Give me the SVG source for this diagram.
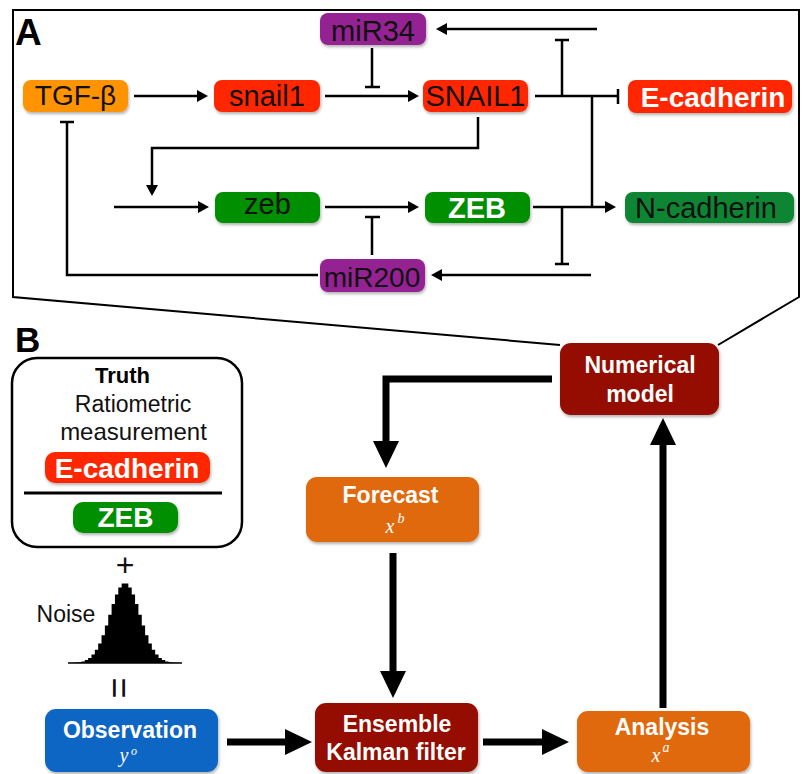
<svg xmlns="http://www.w3.org/2000/svg" width="803" height="774" viewBox="0 0 803 774">
<style>
.lt{font-family:"Liberation Sans",Arial,sans-serif;fill:#111;text-anchor:middle}
.bw{font-family:"Liberation Sans",Arial,sans-serif;font-weight:bold;fill:#fff;text-anchor:middle}
.bb{font-family:"Liberation Sans",Arial,sans-serif;font-weight:bold;fill:#000}
.mt{font-family:"Liberation Serif","Times New Roman",serif;font-style:italic;fill:#fff;text-anchor:middle}
.thin{fill:none;stroke:#000;stroke-width:2.5}
.thick{fill:none;stroke:#000;stroke-width:7;stroke-linejoin:miter}
.outline{fill:none;stroke:#000;stroke-width:2}
</style>
<defs>
<filter id="sh" x="-10%" y="-20%" width="130%" height="160%">
<feDropShadow dx="1" dy="2" stdDeviation="1.5" flood-color="#000" flood-opacity="0.3"/>
</filter>
<marker id="ah" viewBox="0 -6 11 12" markerWidth="11" markerHeight="12" refX="1" refY="0" orient="auto" markerUnits="userSpaceOnUse">
<path d="M0,-6 L11,0 L0,6 z" fill="#000"/>
</marker>
<marker id="AH" viewBox="0 -13 27 26" markerWidth="27" markerHeight="26" refX="1" refY="0" orient="auto" markerUnits="userSpaceOnUse">
<path d="M0,-13 L27,0 L0,13 z" fill="#000"/>
</marker>
</defs>
<rect width="803" height="774" fill="#fff"/>

<g id="panelA-outline">
<polyline class="outline" points="560,345 13,297 13,10 799,10 799,297 718,345"/>
<text class="bb" x="15" y="45" font-size="37">A</text>
</g>
<text class="bb" x="15" y="352" font-size="35">B</text>

<g id="connectors">
<path class="thin" d="M134,96 H198" marker-end="url(#ah)"/>
<path class="thin" d="M325,96 H409" marker-end="url(#ah)"/>
<path class="thin" d="M372,48 V87 M365,87 H380"/>
<path class="thin" d="M597,29 H446" marker-end="url(#ah)"/>
<path class="thin" d="M562,96 V40 M555,40 H569"/>
<path class="thin" d="M535,96 H618 M618,89 V104"/>
<path class="thin" d="M592,96 V207"/>
<path class="thin" d="M478,117 V148 H152 V186" marker-end="url(#ah)"/>
<path class="thin" d="M114,207 H199" marker-end="url(#ah)"/>
<path class="thin" d="M325,207 H409" marker-end="url(#ah)"/>
<path class="thin" d="M372,255 V217 M365,217 H380"/>
<path class="thin" d="M533,207 H606" marker-end="url(#ah)"/>
<path class="thin" d="M562,207 V264 M555,264 H569"/>
<path class="thin" d="M591,275 H441" marker-end="url(#ah)"/>
<path class="thin" d="M318,275 H67 V122 M60,122 H74"/>

<path class="thick" d="M552,379 H386 V442" marker-end="url(#AH)"/>
<path class="thick" d="M393,553 V672" marker-end="url(#AH)"/>
<path class="thick" d="M227,742 H286" marker-end="url(#AH)"/>
<path class="thick" d="M483,742 H543" marker-end="url(#AH)"/>
<path class="thick" d="M663,708 V444" marker-end="url(#AH)"/>
</g>

<g id="TGF-beta"><rect x="23" y="80" width="105" height="32" rx="8" fill="#FF9300" filter="url(#sh)"/><text class="lt" x="75.5" y="105" style="font-size:28px">TGF-β</text></g>
<g id="snail1"><rect x="214" y="80" width="106" height="32" rx="8" fill="#FF2600" filter="url(#sh)"/><text class="lt" x="267" y="106" style="font-size:29px">snail1</text></g>
<g id="miR34"><rect x="320" y="13" width="106" height="32" rx="8" fill="#942092" filter="url(#sh)"/><text class="lt" x="373" y="41" style="font-size:29px">miR34</text></g>
<g id="SNAIL1"><rect x="423" y="80" width="105" height="32" rx="8" fill="#FF2600" filter="url(#sh)"/><text class="lt" x="475.5" y="106" style="font-size:29px">SNAIL1</text></g>
<g id="E-cadherin"><rect x="628" y="80" width="164" height="33" rx="8" fill="#FF2600" filter="url(#sh)"/><text class="bw" x="713" y="107" style="font-size:28px">E-cadherin</text></g>
<g id="zeb"><rect x="215" y="192" width="105" height="31" rx="8" fill="#008F00" filter="url(#sh)"/><text class="lt" x="267.5" y="214" style="font-size:29px">zeb</text></g>
<g id="ZEB"><rect x="425" y="192" width="105" height="31" rx="8" fill="#008F00" filter="url(#sh)"/><text class="bw" x="477" y="218" style="font-size:29px">ZEB</text></g>
<g id="N-cadherin"><rect x="625" y="192" width="169" height="31" rx="8" fill="#0A8533" filter="url(#sh)"/><text class="lt" x="706" y="218" style="font-size:29px">N-cadherin</text></g>
<g id="miR200"><rect x="320" y="259" width="105" height="33" rx="8" fill="#942092" filter="url(#sh)"/><text class="lt" x="372" y="287" style="font-size:28px">miR200</text></g>

<g id="truth">
<rect x="12" y="358" width="230" height="189" rx="25" fill="#fff" stroke="#000" stroke-width="2.5"/>
<text class="bb" x="122.5" y="383" font-size="22" text-anchor="middle">Truth</text>
<text class="lt" x="133" y="412" style="font-size:23px">Ratiometric</text>
<text class="lt" x="133.5" y="440" style="font-size:24px">measurement</text>
<rect x="45" y="452" width="165" height="31" rx="10" fill="#FF2600" filter="url(#sh)"/>
<text class="bw" x="127" y="478" style="font-size:28px">E-cadherin</text>
<line x1="24" y1="493" x2="222" y2="493" stroke="#000" stroke-width="3"/>
<rect x="73" y="502" width="105" height="31" rx="10" fill="#008F00" filter="url(#sh)"/>
<text class="bw" x="125.5" y="527" style="font-size:28px">ZEB</text>
</g>

<g id="noise">
<text class="lt" x="125" y="576" style="font-size:32px">+</text>
<text class="lt" x="66" y="622" style="font-size:23px">Noise</text>
<path d="M68,663 V662.9 H71.35 V662.8 H74.7 V662.6 H78.06 V662.2 H81.41 V661.4 H84.76 V660.1 H88.12 V657.9 H91.47 V654.6 H94.82 V649.8 H98.18 V643.4 H101.53 V635.2 H104.88 V625.4 H108.24 V614.8 H111.59 V604.1 H114.94 V594.6 H118.29 V587.4 H121.65 V583.5 H128.35 V587.4 H131.71 V594.6 H135.06 V604.1 H138.41 V614.8 H141.76 V625.4 H145.12 V635.2 H148.47 V643.4 H151.82 V649.8 H155.18 V654.6 H158.53 V657.9 H161.88 V660.1 H165.24 V661.4 H168.59 V662.2 H171.94 V662.6 H175.3 V662.8 H178.65 V662.9 H182 V663 Z" fill="#000"/>
<line x1="68" y1="663" x2="182" y2="663" stroke="#000" stroke-width="1.5"/>
<text class="lt" x="0" y="0" style="font-size:36px" transform="translate(119,688) rotate(90)" dominant-baseline="central">=</text>
</g>

<g id="observation"><rect x="45" y="709" width="173" height="63" rx="11" fill="#0B66C4" filter="url(#sh)"/><text class="bw" x="130" y="738" style="font-size:23px">Observation</text><text class="mt" x="124" y="762" style="font-size:20px">y</text><text class="mt" x="134" y="755" style="font-size:12px">o</text></g>
<g id="enkf"><rect x="315" y="703" width="163" height="69" rx="11" fill="#941100" filter="url(#sh)"/><text class="bw" x="397" y="732" style="font-size:23px">Ensemble</text><text class="bw" x="396" y="760" style="font-size:23px">Kalman filter</text></g>
<g id="analysis"><rect x="577" y="711" width="173" height="61" rx="11" fill="#E0690F" filter="url(#sh)"/><text class="bw" x="662" y="735" style="font-size:23px">Analysis</text><text class="mt" x="656" y="762" style="font-size:20px">x</text><text class="mt" x="666" y="752" style="font-size:14px">a</text></g>
<g id="forecast"><rect x="306" y="477" width="173" height="65" rx="11" fill="#E0690F" filter="url(#sh)"/><text class="bw" x="390.5" y="503" style="font-size:23px">Forecast</text><text class="mt" x="390" y="533" style="font-size:20px">x</text><text class="mt" x="401" y="523" style="font-size:14px">b</text></g>
<g id="numerical-model"><rect x="560" y="343" width="159" height="72" rx="11" fill="#941100" filter="url(#sh)"/><text class="bw" x="640" y="373" style="font-size:23px">Numerical</text><text class="bw" x="640" y="402" style="font-size:23px">model</text></g>
</svg>
